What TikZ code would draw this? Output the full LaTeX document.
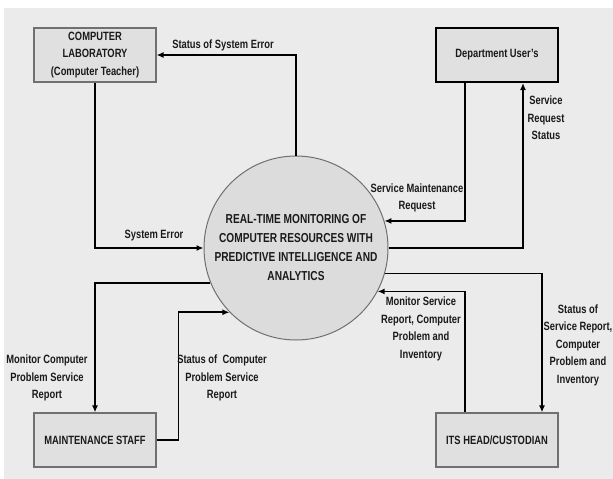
\documentclass[tikz,border=0pt]{standalone}
\usepackage{fontspec}
\setmainfont[FakeStretch=0.78]{Liberation Sans}
\usepackage{xcolor}
\usepackage{tikz}
\usetikzlibrary{arrows.meta, positioning, calc}
\definecolor{fondo}{HTML}{EBEBEB}
\definecolor{caja}{HTML}{E0E0E0}
\definecolor{borde}{HTML}{707070}
\definecolor{circulo}{HTML}{DCDCDC}
\definecolor{tinta}{HTML}{1A1A1A}
\tikzset{
  every picture/.style={font=\bfseries, >=Latex},
  ent/.style={draw=borde, fill=caja, line width=1.2pt, text=tinta, minimum width=122pt, minimum height=54pt,
              inner sep=0pt, align=center, font=\fontsize{12}{17.5}\selectfont\bfseries},
  entn/.style={ent, draw=black, line width=2pt},
  proc/.style={circle, draw=borde, fill=circulo, line width=1pt, text=tinta, minimum size=184pt, inner sep=0pt,
               align=center, font=\fontsize{13}{19}\selectfont\bfseries},
  flecha/.style={-{Latex[length=7pt,width=6pt]}, line width=1.7pt, black},
  etiq/.style={text=tinta, align=center, inner sep=0pt, font=\fontsize{12}{17.5}\selectfont\bfseries},
}
\begin{document}
\begin{tikzpicture}[x=1pt, y=-1pt]
  \useasboundingbox (0,0) rectangle (613,479);
  \fill[fondo] (4,8) rectangle (613,479);

  \node[proc] (Sis) at (296,248) {REAL-TIME MONITORING OF\\COMPUTER RESOURCES WITH\\PREDICTIVE INTELLIGENCE AND\\ANALYTICS};
  \node[ent] (Lab) at (95,55) {COMPUTER\\LABORATORY\\(Computer Teacher)};
  \node[entn] (Dep) at (497,55) {Department User's};
  \node[ent] (Man) at (95,440) {MAINTENANCE STAFF};
  \node[ent] (Its) at (497,440) {ITS HEAD/CUSTODIAN};

  \draw[flecha] (Sis.north) |- (Lab.east);
  \draw[flecha] (Lab.south) |- (Sis.west);
  \draw[flecha] (Sis.202) -| (Man.north);
  \draw[flecha] (Man.east) -- ++(22,0) |- (Sis.224);
  \draw[flecha] ([xshift=-32pt]Dep.south) |- (Sis.17);
  \draw[flecha] (Sis.east) -| ([xshift=26pt]Dep.south);
  \draw[flecha] (Sis.344) -| ([xshift=45pt]Its.north);
  \draw[flecha] ([xshift=-32pt]Its.north) |- (Sis.332);

  \node[etiq] (eSE) at (223,45) {Status of System Error};
  \node[etiq] (eE) at (154,236) {System Error};
  \node[etiq] (eMC) at (47,378) {Monitor Computer\\Problem Service\\Report};
  \node[etiq] (eSC) at (222,378) {Status of\ \ Computer\\Problem Service\\Report};
  \node[etiq] (eSM) at (417,198) {Service Maintenance\\Request};
  \node[etiq] (eSR) at (546,118) {Service\\Request\\Status};
  \node[etiq] (eMS) at (421,329) {Monitor Service\\Report, Computer\\Problem and\\Inventory};
  \node[etiq] (eSS) at (578,345) {Status of\\Service Report,\\Computer\\Problem and\\Inventory};
\end{tikzpicture}
\end{document}
